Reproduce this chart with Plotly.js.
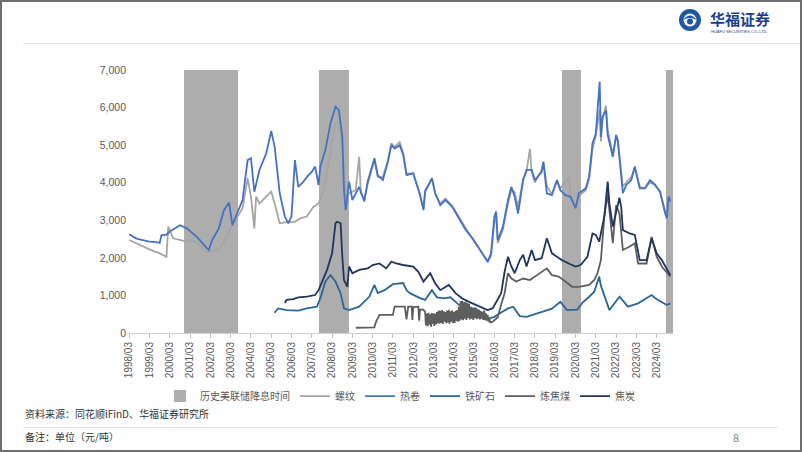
<!DOCTYPE html>
<html><head><meta charset="utf-8">
<script src="https://cdn.plot.ly/plotly-3.0.1.min.js"></script>
<style>
html,body{margin:0;padding:0;background:#fff;}
#wrap{position:relative;width:802px;height:452px;overflow:hidden;font-family:"Noto Sans CJK SC","Noto Sans",sans-serif;}
#chart{position:absolute;left:0;top:0;width:802px;height:452px;}
.frame{position:absolute;left:0;top:0;width:802px;height:452px;box-sizing:border-box;border:2px solid #6e6e6e;pointer-events:none;}
.hl{position:absolute;height:1px;background:#e3e3e3;}
.ft{position:absolute;font-size:10px;color:#333;white-space:nowrap;}
</style></head>
<body><div id="wrap"><div id="chart"></div>
<div class="hl" style="left:23px;top:43px;width:779px;"></div>
<div class="hl" style="left:23px;top:427px;width:755px;"></div>
<div class="ft" style="left:25px;top:406px;">资料来源：同花顺iFinD、华福证券研究所</div>
<div class="ft" style="left:25px;top:429px;">备注：单位（元/吨）</div>
<div class="ft" style="left:733px;top:429px;color:#888;font-size:11px;">8</div>
<svg style="position:absolute;left:674px;top:6px;" width="110" height="32">
  <circle cx="16" cy="14" r="11" fill="#1f57a6"/>
  <circle cx="16" cy="14" r="6.5" fill="#fff"/>
  <path d="M9 14 Q16 5 23 14 Q16 10 9 14Z" fill="#1f57a6"/>
  <circle cx="16" cy="15.5" r="3" fill="#1f57a6"/>
  <text x="36" y="19" font-size="15" font-weight="bold" fill="#1d3f8f" font-family="Noto Sans CJK SC">华福证券</text>
  <text x="37" y="27" font-size="4" fill="#1d3f8f" font-family="Liberation Sans">HUAFU SECURITIES CO.,LTD.</text>
</svg>
<div class="frame"></div></div>
<script>
// Fed rate-cut periods
const cutStart = ['2000-11-05','2007-07-01','2019-07-01','2024-08-20'];
const cutEnd   = ['2003-07-10','2009-01-01','2020-06-05','2024-12-20'];
const cutHeight = 7000;

// 螺纹
const rebarX = ['1998-03','1998-09','1999-03','1999-09','2000-01','2000-02','2000-05','2001-01','2001-04','2001-09','2002-01','2002-08','2002-11','2003-03','2003-06','2003-10','2004-01','2004-03','2004-05','2004-06','2004-08','2004-12','2005-03','2005-05','2005-08','2006-01','2006-05','2006-08','2006-12','2007-04','2007-07','2007-10','2008-02','2008-05','2008-07','2008-09','2008-11','2009-01','2009-05','2009-07','2009-08','2009-10','2009-12','2010-04','2010-06','2010-09','2010-12','2011-02','2011-04','2011-07','2011-09','2011-11','2012-03','2012-07','2012-09','2012-10','2013-02','2013-04','2013-07','2013-10','2014-02','2014-06','2014-10','2015-02','2015-06','2015-09','2015-11','2016-01','2016-03','2016-04','2016-05','2016-08','2016-11','2017-01','2017-03','2017-05','2017-08','2017-10','2017-12','2018-01','2018-03','2018-07','2018-08','2018-10','2019-01','2019-04','2019-06','2019-11','2019-12','2020-03','2020-05','2020-09','2020-11','2021-01','2021-03','2021-05-10','2021-06','2021-07','2021-09','2021-10','2022-01','2022-03','2022-04','2022-07','2022-09','2022-12','2023-02','2023-05','2023-08','2023-11','2024-02','2024-05','2024-08','2024-09','2024-10','2024-11'];
const rebarY = [2475,2340,2225,2120,2030,2830,2520,2430,2475,2340,2160,2210,2430,2785,3010,3320,4120,3630,2785,3630,3450,3630,3760,3450,2920,2960,2960,3050,3100,3360,3450,3800,4780,5580,5620,4960,3540,3720,3800,4690,3720,3550,3950,4600,4150,4150,4600,5050,4950,5080,4800,4250,4250,3700,3300,3800,4100,3700,3450,3580,3380,3080,2780,2500,2250,2020,1880,2050,2950,3180,2400,2750,3450,3800,3750,3350,4100,4300,4900,4300,4000,4350,4550,3900,3700,4050,3850,4150,3650,3400,3650,3800,4100,4900,5250,5950,5100,5700,6050,5400,4750,5200,5100,3900,4000,4150,4400,3900,3850,4000,3950,3750,3250,3100,3650,3550];

// 热卷
const coilX = ['1998-03','1998-07','1998-09','1999-03','1999-07','1999-09','1999-10','2000-01','2000-03','2000-09','2001-01','2001-07','2002-01','2002-02','2002-04','2002-08','2002-11','2003-02','2003-04','2003-07','2003-10','2004-01','2004-03','2004-05','2004-08','2004-12','2005-03','2005-05','2005-08','2005-11','2006-01','2006-03','2006-05','2006-07','2006-10','2007-01','2007-03','2007-05','2007-07','2007-08','2007-11','2008-02','2008-05','2008-07','2008-09','2008-10','2008-11','2009-01','2009-03','2009-07','2009-10','2009-12','2010-04','2010-06','2010-09','2010-12','2011-02','2011-04','2011-07','2011-09','2011-11','2012-03','2012-07','2012-09','2012-10','2013-02','2013-04','2013-07','2013-10','2014-02','2014-06','2014-10','2015-02','2015-06','2015-09','2015-11','2016-01','2016-03','2016-04','2016-05','2016-08','2016-11','2017-01','2017-03','2017-05','2017-08','2017-10','2018-01','2018-03','2018-07','2018-08','2018-10','2019-01','2019-04','2019-06','2019-09','2019-12','2020-03','2020-05','2020-09','2020-11','2021-01','2021-03','2021-05-10','2021-06','2021-07','2021-09','2021-10','2022-01','2022-03','2022-04','2022-07','2022-09','2022-12','2023-02','2023-05','2023-08','2023-11','2024-02','2024-05','2024-08','2024-09','2024-10','2024-11'];
const coilY = [2630,2520,2490,2430,2420,2400,2600,2620,2700,2870,2785,2560,2250,2210,2470,2785,3270,3470,2870,3230,3540,4600,4650,3760,4340,4780,5375,4960,3720,3100,2920,3100,4600,3890,4030,4200,4290,4430,3940,4430,4870,5580,6020,5930,5220,3800,3270,4030,3540,3890,3500,4030,4650,4200,4070,4560,5000,4910,5000,4740,4200,4250,3670,3270,3760,4120,3720,3400,3540,3360,3050,2740,2520,2250,2030,1900,2120,3100,3230,2470,2830,3540,3890,3630,3180,4070,4340,4340,4070,4290,4560,3720,3670,4070,3800,3670,3630,3320,3720,3850,4160,5050,5310,6690,5220,5760,5930,5270,4690,5270,5140,3720,3940,4070,4430,3850,3850,4070,3940,3760,3180,3050,3630,3500];

// 铁矿石
const oreX = ['2005-05','2005-07','2005-12','2006-07','2006-12','2007-06','2007-08','2007-11','2008-02','2008-05','2008-08','2008-10','2009-01','2009-07','2010-01','2010-04','2010-06','2010-10','2011-03','2011-09','2011-11','2012-01','2012-07','2012-10','2013-02','2013-05','2013-09','2014-01','2014-06','2014-11','2015-04','2015-08','2015-12','2016-03','2016-06','2016-11','2017-02','2017-06','2017-10','2018-03','2018-09','2019-01','2019-06','2019-10','2020-04','2020-07','2020-11','2021-02','2021-05','2021-06','2021-11','2022-05','2022-10','2023-04','2023-12','2024-03','2024-09','2024-11'];
const oreY = [540,655,610,595,655,700,920,1370,1540,1370,1060,655,610,700,970,1280,1060,1140,1300,1330,1140,1060,930,880,1140,950,920,950,750,655,655,450,390,430,520,655,700,450,430,500,600,650,830,610,620,800,965,1100,1500,1260,610,965,700,790,1010,900,745,790];

// 炼焦煤
const coalX = ['2009-05','2010-04','2010-05','2010-07','2011-03','2011-04','2011-10','2011-11','2011-12','2012-02','2012-02-15','2012-03','2012-06','2012-06-15','2012-07','2012-09',
'2012-10-01','2012-10-15','2012-11-01','2012-11-15','2012-12-01','2012-12-15','2013-01-01','2013-01-15','2013-02-01','2013-02-15','2013-03-01','2013-03-15','2013-04-01','2013-04-15','2013-05-01','2013-05-15','2013-06-01','2013-06-15','2013-07-01','2013-07-15','2013-08-01','2013-08-15','2013-09-01','2013-09-15','2013-10-01','2013-10-15','2013-11-01','2013-11-15','2013-12-01','2013-12-15','2014-01-01','2014-01-15','2014-02-01','2014-02-15','2014-03-01','2014-03-15','2014-04-01','2014-04-15','2014-05-01','2014-05-15','2014-06-01','2014-06-15','2014-07-01','2014-07-15','2014-08-01','2014-08-15','2014-09-01','2014-09-15','2014-10-01','2014-10-15','2014-11-01','2014-11-15','2014-12-01','2014-12-15','2015-01-01','2015-01-15','2015-02-01','2015-02-15','2015-03-01','2015-03-15','2015-04-01','2015-04-15','2015-05-01','2015-05-15','2015-06-01','2015-06-15','2015-07-01','2015-07-15','2015-08-01','2015-08-15','2015-09-01','2015-09-15','2015-10-01','2015-10-15','2015-11-01','2015-11-15','2015-12-01','2015-12-15',
'2016-02','2016-05','2016-07','2016-09','2016-11','2017-01','2017-04','2017-08','2017-12','2018-03','2018-10','2019-01','2019-05','2019-09','2020-01','2020-05','2020-11','2021-02','2021-04','2021-06','2021-08','2021-10','2021-11','2022-01','2022-03','2022-05','2022-07','2022-11','2023-02','2023-04','2023-09','2023-12','2024-03','2024-06','2024-11'];
const coalY = [140,150,300,480,480,700,700,360,700,700,350,690,700,330,620,620,
560,200,520,180,540,220,500,170,530,240,520,190,510,230,560,260,600,250,590,270,610,240,580,300,560,260,600,280,620,250,580,300,600,270,560,260,590,320,610,300,700,330,850,360,860,340,820,380,840,350,800,400,780,360,700,380,650,350,640,400,660,370,600,390,620,360,580,380,560,350,600,340,520,330,480,300,400,280,
300,420,760,1060,1590,1450,1370,1450,1410,1500,1720,1540,1500,1370,1230,1230,1280,1410,1590,1940,3100,3700,3270,2390,3400,3180,2210,2300,2390,1850,1850,2560,2030,1770,1500];

// 焦炭
const cokeX = ['2005-11','2005-12','2006-04','2006-07','2006-12','2007-05','2007-07','2007-09','2007-12','2008-03','2008-05','2008-06','2008-08','2008-09','2008-10','2008-12','2009-01','2009-03','2009-07','2009-12','2010-03','2010-07','2010-11','2011-02','2011-05','2011-09','2012-03','2012-06','2012-09','2013-01','2013-04','2013-07','2013-12','2014-04','2014-08','2014-12','2015-06','2015-11','2016-02','2016-05','2016-07','2016-09','2016-11','2017-01','2017-03','2017-06','2017-08','2017-10','2018-01','2018-03','2018-07','2018-10','2019-01','2019-04','2019-07','2019-11','2020-03','2020-06','2020-10','2021-01','2021-03','2021-05','2021-08','2021-10','2021-11','2022-01','2022-05','2022-06','2022-07','2022-11','2023-02','2023-05','2023-09','2023-12','2024-03','2024-06','2024-09','2024-11'];
const cokeY = [800,880,900,950,970,1010,1140,1370,1680,2120,2920,2960,2920,2030,1410,1230,1770,1590,1680,1720,1810,1850,1720,1900,1850,1810,1770,1630,1370,1590,1320,1140,1280,1060,920,830,700,610,660,880,1060,1630,2030,1770,1590,1940,2080,1770,2210,1940,1990,2520,2120,2030,1940,1850,1770,1810,2030,2650,2610,2430,3100,4030,3450,2830,3600,3360,2740,2650,2610,1940,1940,2520,2120,1940,1680,1540];

const ms = d => new Date(d + (d.length === 7 ? '-01' : '') + 'T00:00:00Z').getTime();
const cutMid = cutStart.map((s, i) => new Date((ms(s) + ms(cutEnd[i])) / 2).toISOString().slice(0, 10));
const cutW = cutStart.map((s, i) => ms(cutEnd[i]) - ms(s));

const ln = (x, y, name, color, w) => ({type:'scatter', mode:'lines', x, y, name, line:{color, width:w||1.8}, hoverinfo:'skip'});

const traces = [
  {type:'bar', x:cutMid, y:cutStart.map(() => cutHeight), width:cutW, name:'历史美联储降息时间', marker:{color:'#adadad', line:{width:0}}, hoverinfo:'skip'},
  ln(rebarX, rebarY, '螺纹', '#a5a5a5'),
  ln(coilX, coilY, '热卷', '#4472c4'),
  ln(oreX, oreY, '铁矿石', '#2a6699'),
  ln(coalX, coalY, '炼焦煤', '#5e5e5e'),
  ln(cokeX, cokeY, '焦炭', '#22345e')
];

const layout = {
  width:802, height:452,
  margin:{l:127, r:129, t:70, b:119},
  paper_bgcolor:'rgba(0,0,0,0)', plot_bgcolor:'rgba(0,0,0,0)',
  showlegend:true,
  legend:{orientation:'h', x:0.5, xanchor:'center', y:-0.24, yanchor:'middle', itemwidth:30, tracegroupgap:0,
          font:{family:'Noto Sans CJK SC, sans-serif', size:10, color:'#595959'}},
  xaxis:{type:'date', range:['1998-01-20','2024-12-20'], tick0:'1998-03-01', dtick:'M12', tickformat:'%Y/%m',
         tickangle:-90, ticks:'outside', ticklen:4, tickcolor:'#bfbfbf', showline:true, linecolor:'#d0d0d0', linewidth:1,
         showgrid:false, zeroline:false, tickfont:{family:'Liberation Sans, sans-serif', size:10, color:'#595959'}},
  yaxis:{range:[0,7000], dtick:1000, tickformat:',d', showgrid:false, zeroline:false, showline:false, ticks:'',
         tickfont:{family:'Liberation Sans, sans-serif', size:10.5, color:'#595959'}},
  bargap:0, hovermode:false
};

Plotly.newPlot('chart', traces, layout, {displayModeBar:false, staticPlot:true});
</script></body></html>
